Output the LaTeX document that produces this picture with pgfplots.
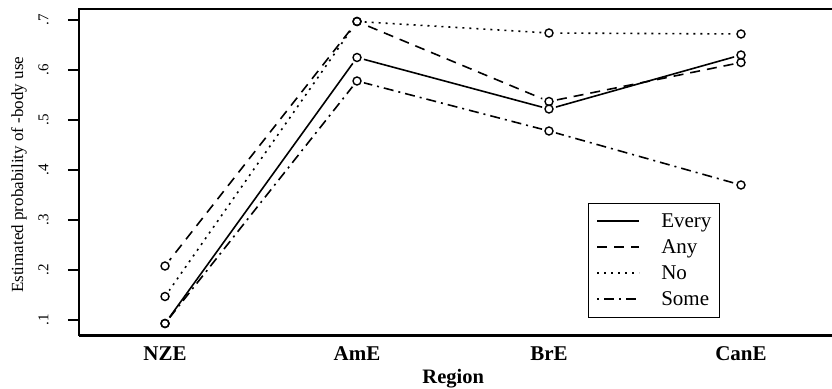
\documentclass[border=0pt]{standalone}
\usepackage{fontspec}
\setmainfont{Liberation Serif}
\usepackage{pgfplots}
\pgfplotsset{compat=1.18}
\begin{document}
\begin{tikzpicture}
\begin{axis}[
  name=ax, at={(0,0)}, anchor=south west,
  scale only axis, width=753pt, height=326.5pt,
  xmin=-0.448, xmax=3.474, ymin=0.069, ymax=0.722,
  clip=false,
  axis x line*=bottom, axis y line*=left,
  axis line style={line width=2.5pt, -},
  every outer x axis line/.append style={-},
  every outer y axis line/.append style={-},
  xtick={0,1,2,3}, xticklabels={NZE,AmE,BrE,CanE},
  ytick={0.1,0.2,0.3,0.4,0.5,0.6,0.7}, yticklabels={.1,.2,.3,.4,.5,.6,.7},
  /pgf/number format/assume math mode=true,
  tick align=outside,
  major tick length=11pt,
  xtick style={draw=none},
  ytick style={draw=black, line width=1.5pt},
  xticklabel style={font=\fontsize{21}{24}\selectfont\bfseries, anchor=base, yshift=-14pt},
  yticklabel style={font=\fontsize{15}{17}\selectfont, xshift=-16pt, rotate=90, anchor=south},
  xlabel={Region},
  every axis x label/.style={at={(axis description cs:0.497,0)}, anchor=base, yshift=-47.5pt, font=\fontsize{20.5}{22}\selectfont\bfseries},
  ylabel={Estimated probability of -body use},
  every axis y label/.style={at={(axis description cs:-0.0797,0.492)}, rotate=90, anchor=center, font=\fontsize{17}{20}\selectfont},
  legend image code/.code={\draw[#1] (0pt,0pt) -- (42pt,0pt);},
  legend cell align=left,
  legend style={at={(axis description cs:0.676,0.054)}, anchor=south west,
    draw=black, line width=1.3pt, font=\fontsize{21}{24}\selectfont,
    inner xsep=8pt, inner ysep=8pt, row sep=6pt, column sep=21pt,
    nodes={inner sep=0pt, text height=16pt, text depth=4pt}},
]
% lines
\addplot[black, line width=1.6pt, solid] coordinates {(0,0.093) (1,0.625) (2,0.522) (3,0.630)};
\addlegendentry{Every}
\addplot[black, line width=1.6pt, dash pattern=on 10pt off 7pt] coordinates {(0,0.208) (1,0.697) (2,0.537) (3,0.615)};
\addlegendentry{Any}
\addplot[black, line width=1.6pt, dash pattern=on 2pt off 5pt] coordinates {(0,0.147) (1,0.697) (2,0.674) (3,0.672)};
\addlegendentry{No}
\addplot[black, line width=1.6pt, dash pattern=on 2pt off 5pt on 10pt off 5pt] coordinates {(0,0.093) (1,0.578) (2,0.478) (3,0.370)};
\addlegendentry{Some}
% halos
\addplot[forget plot, only marks, mark=*, mark size=7pt, mark options={draw=white, fill=white}] coordinates {(0,0.093) (1,0.625) (2,0.522) (3,0.630)};
\addplot[forget plot, only marks, mark=*, mark size=7pt, mark options={draw=white, fill=white}] coordinates {(0,0.208) (1,0.697) (2,0.537) (3,0.615)};
\addplot[forget plot, only marks, mark=*, mark size=7pt, mark options={draw=white, fill=white}] coordinates {(0,0.147) (1,0.697) (2,0.674) (3,0.672)};
\addplot[forget plot, only marks, mark=*, mark size=7pt, mark options={draw=white, fill=white}] coordinates {(0,0.093) (1,0.578) (2,0.478) (3,0.370)};
% circles
\addplot[forget plot, only marks, mark=o, mark size=4pt, mark options={black, line width=1.4pt, solid}] coordinates {(0,0.093) (1,0.625) (2,0.522) (3,0.630)};
\addplot[forget plot, only marks, mark=o, mark size=4pt, mark options={black, line width=1.4pt, solid}] coordinates {(0,0.208) (1,0.697) (2,0.537) (3,0.615)};
\addplot[forget plot, only marks, mark=o, mark size=4pt, mark options={black, line width=1.4pt, solid}] coordinates {(0,0.147) (1,0.697) (2,0.674) (3,0.672)};
\addplot[forget plot, only marks, mark=o, mark size=4pt, mark options={black, line width=1.4pt, solid}] coordinates {(0,0.093) (1,0.578) (2,0.478) (3,0.370)};
% y tick marks (axis decoration)
\pgfplotsinvokeforeach{0.1,0.2,0.3,0.4,0.5,0.6,0.7}{
  \draw[black, line width=1.5pt] (axis cs:-0.448,#1) -- ++(-11pt,0pt);
}
\end{axis}
\draw[line width=2.5pt, line cap=rect] (ax.north west) -- (ax.north east);
\pgfresetboundingbox
\path (-79pt,-52.5pt) rectangle (753pt,335.5pt);
\end{tikzpicture}
\end{document}
